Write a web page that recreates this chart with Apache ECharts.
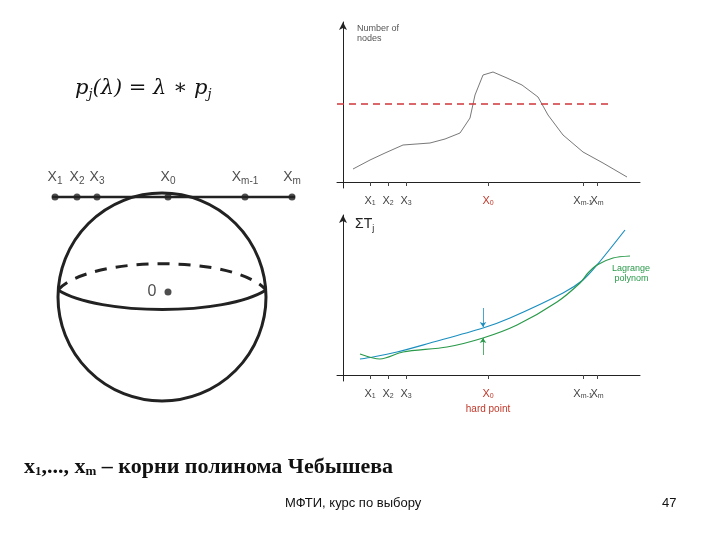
<!DOCTYPE html>
<html><head><meta charset="utf-8">
<script src="https://cdn.jsdelivr.net/npm/echarts@6/dist/echarts.min.js"></script>
<style>html,body{margin:0;padding:0;background:#fff}#c{width:720px;height:540px}</style>
</head><body><div id="c"></div>
<script>
// Top chart: number of nodes vs x
const nodesCurve = [[10,13],[27,22],[42,29],[60,37],[87,39],[102,43],[117,49],[127,64],[132,87],[140,107],[150,110],[164,104],[179,97],[195,85],[205,67],[220,47],[240,30],[260,19],[284,5]];
const hLevel = 78;
// Bottom chart: sum T_j
const sumT = [[17,16],[30,18],[54,23],[87,32],[140,47],[167,57],[220,82],[240,95],[254,110],[282,145]];
const lagrange = [[17,21],[37,16],[60,23],[104,28],[140,37],[174,50],[214,73],[237,92],[245,102],[254,110],[270,117],[287,119]];
const tickValues = [27,45,63,145,240,254];
const tickNames = ['1','2','3','0','m-1','m'];
// Left diagram nodes (x positions on chord line)
const nodeX = [55,77,97,168,245,292];
const nodeLabels = ['1','2','3','0','m-1','m'];

const chart = echarts.init(document.getElementById('c'));
function fmtX(hard){
  return function(v){
    const i = tickValues.indexOf(v);
    if (i < 0) return '';
    if (i === 3) return '{r|X}{rs|' + tickNames[i] + '}' + (hard ? '\n{h|hard point}' : '');
    return '{a|X}{s|' + tickNames[i] + '}';
  };
}
const rich = {
  a:{fontSize:11,color:'#444',fontFamily:'Liberation Sans'},
  s:{fontSize:7,color:'#444',verticalAlign:'bottom',padding:[6,0,0,0]},
  r:{fontSize:11,color:'#c0392b'},
  rs:{fontSize:7,color:'#c0392b',padding:[6,0,0,0]},
  h:{fontSize:10,color:'#c0392b',padding:[4,0,0,0]}
};
const mainTicks = tickValues.filter((v,i)=>i!==4);
const extraTicks = [tickValues[4]];
function xAx(grid, hard, vals, main){
  return {gridIndex:grid,type:'value',min:-6,max:297,position:'bottom',
    axisLine:{show:main,onZero:true,lineStyle:{color:'#222',width:1}},
    axisTick:{show:main,customValues:mainTicks.concat(extraTicks),length:4,lineStyle:{color:'#444'}},
    axisLabel:{show:true,customValues:vals,formatter:fmtX(hard),rich:rich,margin:6,hideOverlap:false},
    splitLine:{show:false}};
}
function yAx(grid, name){
  return {gridIndex:grid,type:'value',min:-6,max:160,
    axisLine:{show:true,symbol:['none','arrow'],symbolSize:[6,8],lineStyle:{color:'#222',width:1}},
    axisTick:{show:false},axisLabel:{show:false},splitLine:{show:false},
    name:name.text,nameLocation:'end',nameGap:name.gap,
    nameTextStyle:name.style};
}
const nodeData = nodeX.map(x=>[x,197]);
chart.setOption({
  animation:false,
  grid:[
    {left:337,top:22,width:303,height:166},
    {left:337,top:215,width:303,height:166},
    {left:0,top:0,width:720,height:540}
  ],
  xAxis:[xAx(0,false,mainTicks,true),xAx(1,true,mainTicks,true),
    {gridIndex:2,type:'value',min:0,max:720,show:false},
    xAx(0,false,extraTicks,false),xAx(1,true,extraTicks,false)],
  yAxis:[
    yAx(0,{text:'Number of\nnodes',gap:-22,style:{color:'#555',fontSize:9,align:'left',lineHeight:10,padding:[0,0,0,14]}}),
    yAx(1,{text:'{b|ΣT}{j|j}',gap:-18,style:{align:'left',padding:[0,0,0,12],rich:{b:{fontSize:14,color:'#222'},j:{fontSize:9,color:'#222',padding:[8,0,0,0]}}}}),
    {gridIndex:2,type:'value',min:0,max:540,inverse:true,show:false}
  ],
  series:[
    {type:'line',xAxisIndex:0,yAxisIndex:0,data:nodesCurve,symbol:'none',lineStyle:{color:'#555',width:0.8}},
    {type:'line',xAxisIndex:0,yAxisIndex:0,data:[[-6,hLevel],[267,hLevel]],symbol:'none',lineStyle:{color:'#d0363a',width:1.5,type:[7,5]}},
    {type:'line',xAxisIndex:1,yAxisIndex:1,data:sumT,symbol:'none',smooth:0.3,lineStyle:{color:'#1a8fc0',width:1.2},
      markLine:{silent:true,symbol:['none','arrow'],symbolSize:5,label:{show:false},lineStyle:{color:'#1a8fc0',type:'solid',width:0.8},data:[[{coord:[140,67]},{coord:[140,48]}]]}},
    {type:'line',xAxisIndex:1,yAxisIndex:1,data:lagrange,symbol:'none',smooth:0.3,lineStyle:{color:'#2a9a4a',width:1.2},
      markLine:{silent:true,symbol:['none','arrow'],symbolSize:5,label:{show:false},lineStyle:{color:'#2a9a4a',type:'solid',width:0.8},data:[[{coord:[140,20]},{coord:[140,37]}]]}},
    {type:'line',xAxisIndex:2,yAxisIndex:2,data:[[52,197],[295,197]],symbol:'none',lineStyle:{color:'#222',width:2.5}},
    {type:'scatter',xAxisIndex:2,yAxisIndex:2,data:nodeData,symbolSize:7,itemStyle:{color:'#222'},
      label:{show:true,position:'top',distance:7,formatter:p=>'{x|X}{s|'+nodeLabels[p.dataIndex]+'}',
        rich:{x:{fontSize:14,color:'#222'},s:{fontSize:10,color:'#222',padding:[8,0,0,0]}}}},
    {type:'scatter',xAxisIndex:2,yAxisIndex:2,data:[[168,292]],symbolSize:7,itemStyle:{color:'#222'},
      label:{show:true,position:'left',distance:8,formatter:'0',fontSize:16,color:'#222'}}
  ],
  graphic:[
    {type:'circle',shape:{cx:162,cy:297,r:104},style:{fill:'none',stroke:'#222',lineWidth:3}},
    {type:'bezierCurve',shape:{x1:58,y1:290,cpx1:90,cpy1:255,cpx2:235,cpy2:255,x2:266,y2:290},style:{fill:'none',stroke:'#222',lineWidth:3,lineDash:[12,9]}},
    {type:'bezierCurve',shape:{x1:58,y1:290,cpx1:100,cpy1:316,cpx2:225,cpy2:316,x2:266,y2:290},style:{fill:'none',stroke:'#222',lineWidth:3}},
    {type:'text',left:75,top:78,style:{text:'{i|p}{s|j}{i|(λ) = λ ∗ p}{s|j}',rich:{i:{fill:'#111',fontSize:21,fontFamily:'DejaVu Serif',fontStyle:'italic'},s:{fill:'#111',fontSize:13,fontFamily:'DejaVu Serif',fontStyle:'italic',padding:[12,0,0,0]}}}},
    {type:'text',left:612,top:264,style:{text:'Lagrange\n polynom',fill:'#2a9a4a',fontSize:9,lineHeight:10,fontFamily:'Liberation Sans'}},
    {type:'text',left:24,top:456,style:{text:'{b|x}{s|1}{b|,..., x}{s|m}{b| – корни полинома Чебышева}',rich:{b:{fill:'#111',fontSize:22,fontWeight:'bold',fontFamily:'Liberation Serif'},s:{fill:'#111',fontSize:13,fontWeight:'bold',fontFamily:'Liberation Serif',padding:[10,0,0,0]}}}},
    {type:'text',left:285,top:497,style:{text:'МФТИ, курс по выбору',fill:'#111',fontSize:13,fontFamily:'Liberation Sans'}},
    {type:'text',left:662,top:497,style:{text:'47',fill:'#111',fontSize:13,fontFamily:'Liberation Sans'}}
  ]
});
</script></body></html>
